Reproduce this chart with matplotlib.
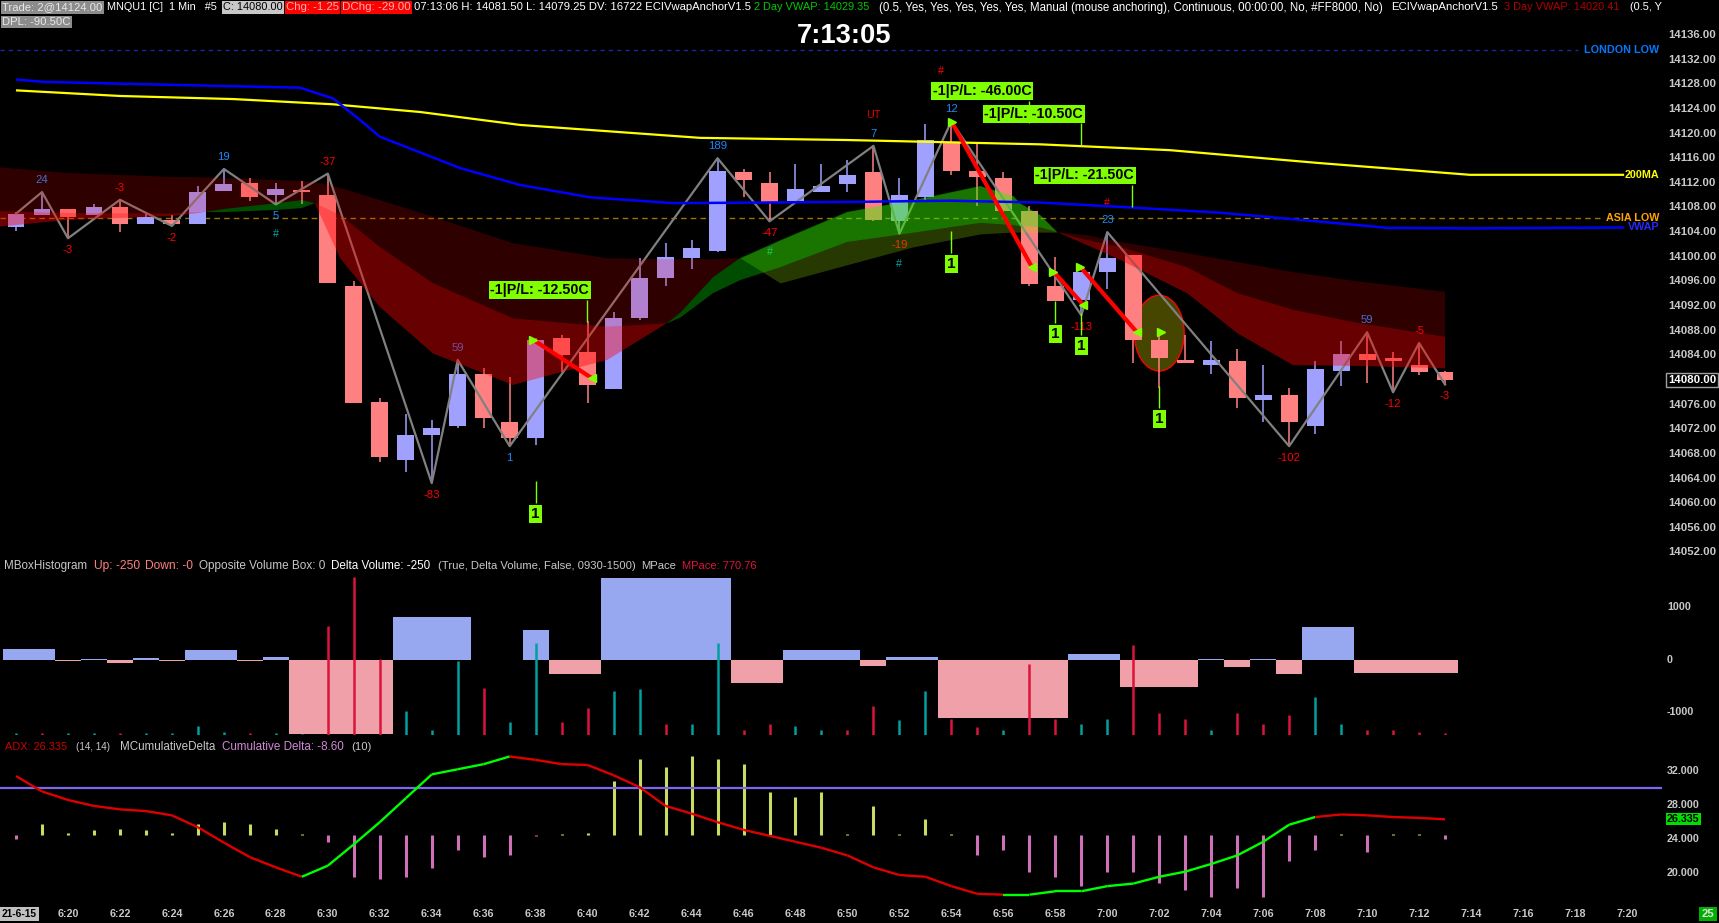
import numpy as np
import matplotlib
matplotlib.use("Agg")
import matplotlib.pyplot as plt
from matplotlib import font_manager
from matplotlib.patches import Ellipse, Rectangle
from matplotlib.collections import LineCollection
from matplotlib.transforms import blended_transform_factory

W, H = 1719, 923
PLOT_R = 1662            # right edge of the plotting area, px

names = {f.name for f in font_manager.fontManager.ttflist}
if 'Liberation Sans Narrow' in names:
    FONT, K = 'Liberation Sans Narrow', 1.0
else:
    FONT, K = 'Liberation Sans', 0.82
plt.rcParams['font.family'] = [FONT, 'DejaVu Sans']

# ---------------- price bars (minutes after 6:00) ----------------
bar_min = list(range(18, 74))      # 6:18 .. 7:13
opens = [14104.75, 14106.75, 14107.75, 14106.75, 14108.0, 14105.25, 14106.0, 14105.25, 14110.75, 14112.0,
         14110.0, 14110.75, 14110.0, 14095.25, 14076.5, 14067.0, 14071.0, 14072.5, 14081.0, 14073.25,
         14070.5, 14086.75, 14084.5, 14078.5, 14090.0, 14096.5, 14099.75, 14101.0, 14113.75, 14112.0,
         14109.0, 14110.5, 14111.75, 14113.75, 14105.75, 14109.75, 14118.5, 14114.0, 14112.75, 14107.5,
         14095.25, 14093.0, 14097.5, 14100.25, 14086.5, 14083.25, 14082.5, 14083.0, 14076.75, 14077.5,
         14072.5, 14081.5, 14084.25, 14083.5, 14082.5, 14081.25]
highs = [14107.25, 14110.5, 14107.75, 14108.5, 14109.25, 14107.0, 14106.75, 14111.5, 14114.25, 14112.75,
         14112.0, 14112.25, 14113.5, 14096.0, 14077.0, 14074.5, 14073.5, 14083.25, 14082.0, 14080.5,
         14086.75, 14087.25, 14089.5, 14091.0, 14099.75, 14102.25, 14102.75, 14116.0, 14114.25, 14113.75,
         14115.0, 14115.0, 14115.75, 14118.0, 14112.75, 14121.5, 14122.0, 14118.5, 14113.75, 14108.25,
         14100.0, 14097.5, 14104.0, 14100.25, 14087.75, 14087.25, 14086.25, 14085.0, 14082.5, 14078.75,
         14083.0, 14086.25, 14087.75, 14084.5, 14086.0, 14081.5]
lows = [14104.25, 14106.75, 14103.0, 14106.75, 14104.0, 14105.25, 14105.0, 14105.25, 14110.75, 14109.0,
        14108.5, 14108.5, 14095.75, 14076.25, 14066.75, 14065.0, 14063.25, 14072.25, 14072.25, 14069.25,
        14069.5, 14081.25, 14076.25, 14078.5, 14089.75, 14095.25, 14098.0, 14100.75, 14109.75, 14105.75,
        14109.0, 14110.5, 14110.5, 14105.75, 14103.75, 14109.25, 14113.25, 14108.25, 14107.25, 14095.25,
        14092.75, 14090.5, 14094.75, 14082.75, 14078.75, 14082.75, 14081.0, 14075.5, 14073.25, 14069.25,
        14071.25, 14079.0, 14079.5, 14078.0, 14080.75, 14079.25]
closes = [14107.0, 14107.75, 14106.5, 14108.0, 14105.25, 14106.5, 14105.25, 14110.5, 14111.75, 14109.75,
          14111.0, 14110.5, 14095.75, 14076.25, 14067.5, 14071.0, 14072.25, 14081.0, 14073.75, 14070.5,
          14086.5, 14084.0, 14079.25, 14090.0, 14096.5, 14100.0, 14101.5, 14114.0, 14112.5, 14108.75,
          14111.0, 14111.5, 14113.25, 14106.0, 14110.0, 14119.0, 14114.0, 14113.0, 14107.5, 14095.5,
          14092.75, 14097.5, 14099.75, 14086.5, 14083.5, 14082.75, 14083.25, 14077.0, 14077.5, 14073.25,
          14081.75, 14084.25, 14083.25, 14083.0, 14081.25, 14080.0]

# zigzag swing points: minute, price, label
zz_t = [18, 19, 20, 22, 24, 26, 28, 30, 34, 35, 37, 45, 47, 51, 52, 54, 59, 60, 67, 70, 71, 72, 73]
zz_p = [14107.0, 14110.5, 14103.0, 14109.25, 14105.0, 14114.25, 14108.5, 14113.5, 14063.25, 14083.25,
        14069.25, 14116.0, 14105.75, 14118.0, 14103.75, 14122.0, 14090.5, 14104.0, 14069.25, 14087.75,
        14078.0, 14086.0, 14079.25]
zz_lab = ['', '24', '-3', '-3', '-2', '19', '5', '-37', '-83', '59', '1', '189', '-47', '7', '-19', '12',
          '-113', '23', '-102', '59', '-12', '-5', '-3']

# moving averages
ma_t = [18.04, 22.0, 26.35, 30.2, 33.55, 37.4, 44.33, 49.98, 57.41, 62.42, 68.19, 73.96, 79.85]
ma200 = [14127.0, 14126.1, 14125.6, 14124.75, 14123.5, 14121.4, 14119.3, 14118.95, 14118.25, 14117.3,
         14115.2, 14113.3, 14113.3]
vwap_t = [18.04, 19.04, 22.0, 25.08, 28.93, 30.2, 31.24, 32.0, 35.09, 37.4, 40.09, 43.29, 50.1, 53.95,
          57.41, 60.49, 64.34, 68.19, 70.77, 73.96, 79.85]
vwap = [14128.75, 14128.4, 14128.1, 14127.8, 14127.45, 14125.7, 14122.2, 14119.5, 14114.4, 14111.65,
        14109.65, 14108.7, 14108.9, 14109.1, 14108.8, 14108.1, 14107.15, 14105.7, 14104.7, 14104.6, 14104.75]
london_low = 14133.5
asia_low = 14106.25

# ribbon lines (slow, mid, fast)
band_t = [17.38, 20.0, 24.0, 25.0, 26.0, 28.0, 29.0, 29.5, 30.47, 32.0, 34.05, 37.13, 40.75, 43.06, 43.56,
          44.83, 45.87, 47.41, 49.98, 52.52, 55.1, 56.37, 56.64, 57.41, 58.07, 59.22, 60.49, 63.07, 65.0,
          67.15, 69.46, 73.0]
band_l1 = [14114.5, 14113.6, 14112.95, 14112.9, 14112.8, 14112.45, 14112.3, 14112.1, 14111.2, 14109.2,
           14106.5, 14102.2, 14099.75, 14099.6, 14099.6, 14099.6, 14099.8, 14095.75, 14098.7, 14101.6,
           14103.7, 14104.0, 14104.0, 14104.0, 14104.0, 14103.5, 14102.4, 14100.6, 14099.15, 14097.5,
           14096.1, 14094.3]
band_l2 = [14107.4, 14107.1, 14107.0, 14107.25, 14107.25, 14107.6, 14107.9, 14108.7, 14106.8, 14101.6,
           14095.7, 14090.0, 14088.65, 14089.2, 14090.1, 14094.1, 14096.2, 14098.3, 14102.4, 14103.9,
           14105.5, 14105.15, 14105.0, 14104.8, 14104.0, 14102.7, 14101.6, 14098.3, 14094.1, 14091.4,
           14089.4, 14087.0]
band_l3 = [14104.9, 14106.0, 14106.6, 14107.1, 14107.75, 14108.7, 14109.2, 14108.7, 14099.8, 14091.85,
           14084.3, 14079.2, 14083.25, 14089.25, 14090.9, 14096.7, 14099.8, 14102.7, 14107.3, 14109.2,
           14111.5, 14109.9, 14108.7, 14106.8, 14104.0, 14101.9, 14099.5, 14094.1, 14087.6, 14082.4,
           14082.3, 14081.9]

# trades: entry (min, price) -> exit (min, price)
trades = [(37.91, 14086.5, 40.16, 14080.3), (54.01, 14121.9, 57.09, 14098.4),
          (57.93, 14097.6, 59.08, 14092.2), (58.95, 14098.4, 61.13, 14087.8)]
open_entry = (62.05, 14087.8)
pl_labels = [(40.05, 14094.6, '-1|P/L: -12.50C'), (57.07, 14126.9, '-1|P/L: -46.00C'),
             (59.07, 14123.2, '-1|P/L: -10.50C'), (61.03, 14113.2, '-1|P/L: -21.50C')]
qty_marks = [(38, 14058.2), (54, 14098.8), (58, 14087.5), (59, 14085.5), (62, 14073.7)]
hash_marks = [(28, 14103.65, '#', '#00A8A8'), (47, 14100.8, '#', '#00A8A8'), (52, 14098.9, '#', '#00A8A8'),
              (53.6, 14130.2, '#', '#FF0000'), (60, 14108.8, '#', '#FF0000'), (51, 14123.0, 'UT', '#E00000')]
circle_at = (62.0, 14087.6)

# MBox histogram
mbox_edges = [17.5, 19.5, 20.5, 21.5, 22.5, 23.5, 24.5, 26.5, 27.5, 28.5, 32.5, 35.5, 37.5, 38.5, 40.5,
              45.5, 47.5, 50.5, 51.5, 53.5, 58.5, 60.5, 63.5, 64.5, 65.5, 66.5, 67.5, 69.5, 73.5]
mbox_vals = [200, -30, 20, -70, 40, -30, 180, -30, 60, -1430, 820, 0, 570, -280, 1570, -450, 180, -120,
             60, -1120, 100, -530, 20, -140, 20, -270, 630, -250]
bar_delta = [40, -40, 40, 40, -40, 40, 40, 170, 60, -40, 40, 20, -2090, -3030, -1460, 460, 100, 1420,
             -900, 250, 1770, -250, -520, 840, 880, -210, 210, 1770, -100, -210, 170, 100, -100, -560,
             290, 840, -310, -150, 100, -1360, -310, 210, 310, -1730, -420, -310, 100, -420, -210, -380,
             730, 210, -100, -100, -60, -40]

# ADX + cumulative delta
adx = [31.4, 29.6, 28.6, 27.9, 27.5, 27.3, 26.8, 25.4, 23.6, 21.9, 20.7, 19.6, 20.9, 23.4, 26.0, 28.8,
       31.6, 32.2, 32.8, 33.7, 33.3, 32.8, 32.7, 31.5, 30.1, 27.9, 27.0, 26.0, 25.1, 24.4, 23.7, 23.0,
       22.1, 20.7, 19.8, 19.6, 18.5, 17.6, 17.5, 17.5, 17.9, 17.9, 18.5, 18.8, 19.6, 20.2, 21.1, 22.1,
       23.7, 25.7, 26.6, 26.9, 26.8, 26.6, 26.5, 26.335]
adx_green = [0] * 11 + [1] * 8 + [0] * 19 + [1] * 12 + [0] * 6
cum_delta = [-9, 30, 6, 15, 18, 15, 6, 30, 36, 30, 18, 3, -18, -114, -120, -114, -90, -39, -60, -54, -3,
             3, 6, 150, 210, 186, 216, 210, 195, 120, 105, 120, 3, 81, 3, 45, 3, -54, -39, -99, -114,
             -138, -99, -99, -129, -150, -168, -144, -168, -69, -39, 3, -45, 3, 3, -8.6]

time_ticks = list(range(20, 81, 2))
time_labels = ['%d:%02d' % (6 + m // 60, m % 60) for m in time_ticks]
price_ticks = list(range(14052, 14137, 4))

# ---------------- figure ----------------
fig = plt.figure(figsize=(W / 100, H / 100), dpi=100, facecolor='black')
XL = (17.383, 81.35)


def panel(top, bottom):
    a = fig.add_axes([0, 1 - bottom / H, PLOT_R / W, (bottom - top) / H])
    a.set_facecolor('black')
    a.set_xlim(*XL)
    for s in a.spines.values():
        s.set_visible(False)
    a.set_xticks([])
    a.set_yticks([])
    return a


def ftext(x, y, s, **kw):
    return fig.text(x / W, 1 - y / H, s, **kw)


# ---- price panel ----
ax = panel(0, 556)
ax.set_ylim(14051.42, 14141.68)

t = np.array(bar_min, float)
o, c = np.array(opens), np.array(closes)
hi, lo = np.array(highs), np.array(lows)
col = np.where(c >= o, '#A0A0FF', '#FF8080')
ax.vlines(t, lo, hi, colors=col, lw=1.1, zorder=3)
ax.bar(t, np.maximum(np.abs(c - o), 0.3), bottom=np.minimum(o, c), width=0.65, color=col, lw=0, zorder=3)

ax.add_patch(Ellipse(circle_at, 1.92, 12.3, fc=(0.5, 0.5, 0, 0.55), ec='#FF0000', lw=1, zorder=2.5))

ax.plot(zz_t, zz_p, color='#808080', lw=1.6, zorder=3.5)
for i, (m, p, s) in enumerate(zip(zz_t, zz_p, zz_lab)):
    if not s:
        continue
    up = p >= zz_p[i - 1]
    ax.annotate(s, (m, p), xytext=(0, 8.5 if up else -8.5), textcoords='offset points', ha='center',
                va='center', fontsize=10 * K, color='#FF0000' if s.startswith('-') else '#1E88FF', zorder=3.6)
for m, p, s, cc in hash_marks:
    ax.text(m, p, s, ha='center', va='center', fontsize=9.5 * K, color=cc, zorder=3.6)

bt = np.array(band_t)
l1, l2, l3 = np.array(band_l1), np.array(band_l2), np.array(band_l3)
ax.fill_between(bt, l1, l3, where=l3 <= l1, interpolate=True, color=(1, 0, 0, 0.19), lw=0, zorder=5)
ax.fill_between(bt, l1, l3, where=l3 >= l1, interpolate=True, color=(0.6, 0.9, 0, 0.25), lw=0, zorder=5)
ax.fill_between(bt, l2, l3, where=l3 <= l2, interpolate=True, color=(1, 0, 0, 0.27), lw=0, zorder=5.1)
ax.fill_between(bt, l2, l3, where=l3 >= l2, interpolate=True, color=(0, 1, 0, 0.3), lw=0, zorder=5.1)

ax.hlines(london_low, XL[0], 78.1, colors='#1828A0', lw=1, linestyles=(0, (3, 3)), zorder=1)
ax.hlines(asia_low, XL[0], 78.97, colors='#9A7400', lw=1, linestyles=(0, (4, 3)), zorder=1)
ax.plot(ma_t, ma200, color='#FFFF00', lw=1.6, zorder=7)
ax.plot(vwap_t, vwap, color='#0000FF', lw=1.8, zorder=7)

ytr = ax.get_yaxis_transform()
ax.text(1659 / PLOT_R, london_low, 'LONDON LOW', transform=ytr, ha='right', va='center', fontsize=9.5 * K,
        fontweight='bold', color='#0078FF')
ax.text(1659 / PLOT_R, ma200[-1], '200MA', transform=ytr, ha='right', va='center', fontsize=9.5 * K,
        fontweight='bold', color='#FFFF00')
ax.text(1659 / PLOT_R, asia_low, 'ASIA LOW', transform=ytr, ha='right', va='center', fontsize=9.5 * K,
        fontweight='bold', color='#FFA500', zorder=6)
ax.text(1659 / PLOT_R, vwap[-1], 'VWAP', transform=ytr, ha='right', va='center', fontsize=9.5 * K,
        fontweight='bold', color='#2828FF', zorder=8)

for t0, p0, t1, p1 in trades:
    ax.plot([t0, t1], [p0, p1], color='#FF0000', lw=3, zorder=8, solid_capstyle='butt')
    ax.plot(t0, p0, marker='>', color='#80FF00', ms=6, zorder=8.5)
    ax.plot(t1, p1, marker='<', color='#80FF00', ms=6, zorder=8.5)
ax.plot(*open_entry, marker='>', color='#80FF00', ms=6, zorder=8.5)

for xr, yc, s in pl_labels:
    ax.vlines(xr - 0.08, yc - 9.5 / 6.16, yc - 31.5 / 6.16, colors='#80FF00', lw=1, zorder=9)
    ax.text(xr, yc, s, ha='right', va='center', fontsize=12.5 * K, fontweight='bold', color='black',
            bbox=dict(boxstyle='square,pad=0.12', fc='#80FF00', ec='none'), zorder=10)
for m, p in qty_marks:
    ax.vlines(m, p + 11 / 6.16, p + 33 / 6.16, colors='#80FF00', lw=1, zorder=9)
    ax.text(m, p, '1', ha='center', va='center', fontsize=13.5 * K, fontweight='bold', color='black',
            bbox=dict(boxstyle='square,pad=0.14', fc='#80FF00', ec='none'), zorder=10)

ptr = blended_transform_factory(fig.transFigure, ax.transData)
for p in price_ticks:
    kw = {}
    colr = '#C8C8C8'
    if p == 14080:
        kw['bbox'] = dict(boxstyle='square,pad=0.15', fc='black', ec='#A0A0A0', lw=1)
        colr = 'white'
    ax.text(1668 / W, p, '%.2f' % p, transform=ptr, ha='left', va='center', fontsize=10 * K,
            fontweight='bold', color=colr, clip_on=False, **kw)

# ---- MBox histogram panel ----
axh = panel(558, 735)
y0h = -1441.9
axh.set_ylim(y0h, 1946.7)
for i, v in enumerate(mbox_vals):
    x0, x1 = mbox_edges[i], mbox_edges[i + 1]
    axh.add_patch(Rectangle((x0, 0), x1 - x0, v, fc='#98A8F0' if v > 0 else '#F0A0A8', ec='none', zorder=2))
bd = np.array(bar_delta, float)
axh.vlines(t, y0h, y0h + np.abs(bd), colors=np.where(bd > 0, '#00A0A0', '#DC143C'), lw=1.8, zorder=3)
htr = blended_transform_factory(fig.transFigure, axh.transData)
for v in (1000, 0, -1000):
    axh.text(1667 / W, v, str(v), transform=htr, ha='left', va='center', fontsize=9.5 * K,
             fontweight='bold', color='#C8C8C8')

# ---- ADX / cumulative delta panel ----
axc = panel(740, 905)
axc.set_ylim(-190.5, 261)
cd = np.array(cum_delta, float)
axc.vlines(t, 0, cd, colors=np.where(cd > 0, '#C8DC64', '#D070B8'), lw=2.2)

axa = panel(740, 905)
axa.patch.set_visible(False)
axa.set_ylim(16.29, 35.63)
axa.axhline(30, color='#7B68EE', lw=1.6, zorder=1)
pts = np.column_stack([t, np.array(adx)])
segs = np.stack([pts[:-1], pts[1:]], axis=1)
axa.add_collection(LineCollection(segs, colors=['#00FF00' if g else '#DD0000' for g in adx_green[:-1]],
                                  linewidths=1.7, zorder=4))
atr = blended_transform_factory(fig.transFigure, axa.transData)
for v in (32, 28, 24, 20):
    axa.text(1667 / W, v, '%.3f' % v, transform=atr, ha='left', va='center', fontsize=9.5 * K,
             fontweight='bold', color='#C8C8C8')
axa.text(1667 / W, adx[-1], '%.3f' % adx[-1], transform=atr, ha='left', va='center', fontsize=9.5 * K,
         fontweight='bold', color='black', bbox=dict(boxstyle='square,pad=0.1', fc='#00E000', ec='none'))

ttr = blended_transform_factory(axa.transData, fig.transFigure)
for m, s in zip(time_ticks, time_labels):
    axa.text(m, 1 - 914 / H, s, transform=ttr, ha='center', va='center', fontsize=9.5 * K,
             fontweight='bold', color='#C8C8C8', clip_on=False)
ftext(2, 914, '21-6-15', ha='left', va='center', fontsize=9 * K, fontweight='bold', color='black',
      bbox=dict(boxstyle='square,pad=0.15', fc='#C0C0C0', ec='none'))
ftext(1708, 914, '25', ha='center', va='center', fontsize=10 * K, fontweight='bold', color='#E0E0E0',
      bbox=dict(boxstyle='square,pad=0.2', fc='#00B000', ec='none'))

ftext(844, 36, '7:13:05', ha='center', va='center', fontsize=24 * K, fontweight='bold', color='white')

# ---- header strings, fitted to their measured spans ----
renderer = fig.canvas.get_renderer()


def chunk(x0, x1, y, s, color, bg=None, size=9.0):
    tx = ftext(x0, y, s, ha='left', va='center', fontsize=size, color=color)
    w = tx.get_window_extent(renderer).width
    if w > 0:
        tx.set_fontsize(size * min(1.3, max(0.7, (x1 - x0) / w)))
    if bg:
        tx.set_bbox(dict(boxstyle='square,pad=0.12', fc=bg, ec='none'))
    return tx


chunk(2, 102, 7.5, 'Trade: 2@14124.00', '#E8E8E8', '#8C8C8C')
chunk(107, 218, 7.5, 'MNQU1 [C]  1 Min   #5', 'white')
chunk(223, 283, 7.5, 'C: 14080.00', 'black', '#C8C8C8')
chunk(286, 339, 7.5, 'Chg: -1.25', '#FFB0B0', '#FF0000')
chunk(342, 410, 7.5, 'DChg: -29.00', '#FFB0B0', '#FF0000')
chunk(414, 749, 7.5, '07:13:06 H: 14081.50 L: 14079.25 DV: 16722 ECIVwapAnchorV1.5', 'white')
chunk(754, 870, 7.5, '2 Day VWAP: 14029.35', '#00C800')
chunk(879, 1383, 7.5, '(0.5, Yes, Yes, Yes, Yes, Yes, Manual (mouse anchoring), Continuous, 00:00:00, '
      'No, #FF8000, No)', 'white')
chunk(1391, 1498, 7.5, 'ECIVwapAnchorV1.5', 'white')
chunk(1504, 1620, 7.5, '3 Day VWAP: 14020.41', '#B00000')
chunk(1630, 1662, 7.5, '(0.5, Y', 'white')
chunk(2, 70, 22, 'DPL: -90.50C', '#E8E8E8', '#8C8C8C')

chunk(4, 87, 566, 'MBoxHistogram', '#C8C8C8')
chunk(94, 140, 566, 'Up: -250', '#FF8080')
chunk(145, 193, 566, 'Down: -0', '#FF8080')
chunk(199, 325, 566, 'Opposite Volume Box: 0', '#C8C8C8')
chunk(331, 430, 566, 'Delta Volume: -250', 'white')
chunk(438, 635, 566, '(True, Delta Volume, False, 0930-1500)', '#C8C8C8')
chunk(641, 676, 566, 'MPace', '#C8C8C8')
chunk(682, 757, 566, 'MPace: 770.76', '#DC143C')

chunk(5, 67, 747, 'ADX: 26.335', '#C80000')
chunk(76, 110, 747, '(14, 14)', '#C8C8C8')
chunk(120, 215, 747, 'MCumulativeDelta', '#C8C8C8')
chunk(222, 343, 747, 'Cumulative Delta: -8.60', '#D088D8')
chunk(351, 371, 747, '(10)', '#C8C8C8')

fig.savefig('out.png', dpi=100, facecolor='black')
